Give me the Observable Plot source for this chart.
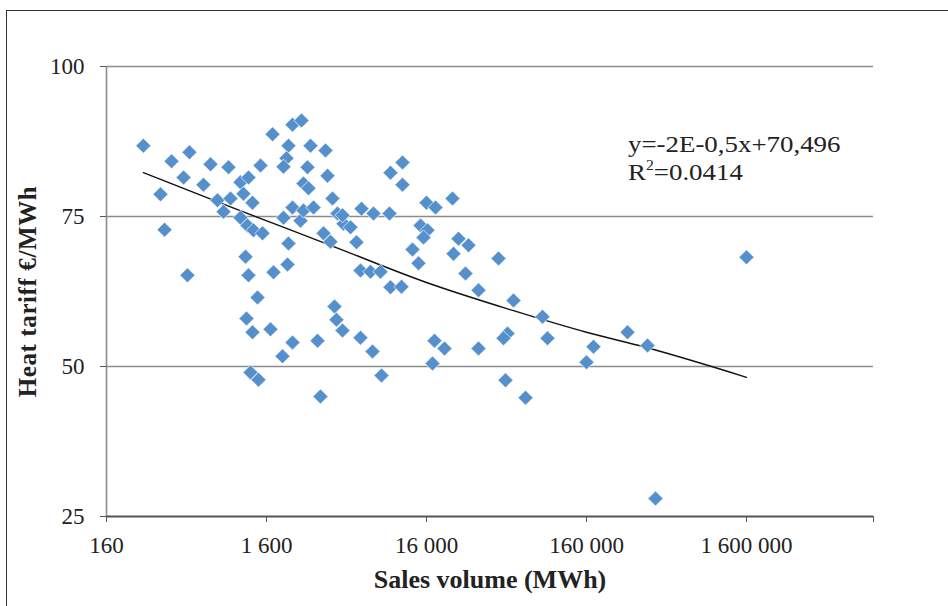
<!DOCTYPE html>
<html><head><meta charset="utf-8">
<script src="https://cdn.jsdelivr.net/npm/d3@7"></script>
<script src="https://cdn.jsdelivr.net/npm/@observablehq/plot@0.6"></script>
<style>
html,body{margin:0;padding:0;background:#fff;}
#wrap{position:relative;width:948px;height:606px;overflow:hidden;font-family:"Liberation Serif","Times New Roman",serif;}
#frame{position:absolute;left:6px;top:10px;right:-10px;bottom:-10px;border-left:1.5px solid #333;border-top:1.5px solid #333;pointer-events:none;}
#eq{position:absolute;left:628px;top:130px;font-size:24px;line-height:28px;color:#222;white-space:nowrap;transform:scaleX(1.12);transform-origin:left top;}
#eq sup{font-size:14px;vertical-align:10px;line-height:0;}
#chart{position:absolute;left:0;top:0;}
svg text{font-family:"Liberation Serif","Times New Roman",serif;}
g[aria-label="x-axis label"] text{font-weight:bold;font-size:26px;}
g[aria-label="y-axis label"] text{font-weight:bold;font-size:25px;letter-spacing:0.6px;}
</style>
</head><body>
<div id="wrap"><div id="chart"></div><div id="frame"></div>
<div id="eq">y=-2E-0,5x+70,496<br>R<sup>2</sup>=0.0414</div></div>
<script>
// Data
const salesVolume = [272,408,528,715,926,485,646,348,369,513,790,862,953,1100,1100,1149,1235,1217,1308,1327,1468,1511,1183,1235,1406,1200,1308,1271,1426,1745,2326,2648,2196,2134,2044,1770,2165,2196,1695,2326,2014,2044,2326,2610,2725,3147,2725,2929,2887,3014,3741,3850,4136,4445,4847,3635,4018,3479,3334,4257,4381,4777,4777,5360,5843,6279,7463,9395,6189,7146,8253,9530,11167,6189,7356,8374,9530,11328,11328,13080,14260,14680,16233,15325,16000,18215,23256,17955,20730,17447,25360,29290,23600,28050,33820,45100,33820,55960,84960,91270,51330,48460,49880,66520,160000,176950,288700,384900,431900,1600000];
const heatTariff = [86.8,84.2,85.7,83.7,83.2,81.5,80.3,78.7,72.8,65.2,77.7,75.8,78.0,80.7,74.8,78.8,81.5,73.5,77.3,72.7,83.5,72.2,68.3,65.2,61.5,58.0,55.7,49.0,47.8,88.7,90.3,91.0,86.8,84.7,83.3,65.7,67.0,70.5,56.2,54.0,51.7,74.8,76.5,74.3,76.0,76.5,80.5,79.7,83.2,86.8,86.0,81.8,78.0,75.5,73.8,72.2,70.8,45.0,54.3,60.0,57.8,56.0,75.2,73.2,70.7,76.3,75.5,75.5,66.0,65.8,65.8,63.2,63.3,54.8,52.5,48.5,82.3,84.0,80.3,69.5,67.2,73.5,72.7,71.5,77.3,76.5,78.0,54.3,53.0,50.5,71.3,70.2,68.8,65.5,62.7,68.0,53.0,61.0,58.3,54.7,55.5,54.7,47.7,44.8,50.7,53.3,55.7,53.5,28.0,68.2];
// Trend line points
const trendX = [272, 953, 4018, 16000, 55960, 160000, 374000, 1600000];
const trendY = [82.3, 76.6, 70.2, 64.0, 59.3, 55.7, 53.2, 48.2];
// Axes
const xTicks = [160, 1600, 16000, 160000, 1600000];
const xTickLabels = ["160", "1 600", "16 000", "160 000", "1 600 000"];
const xMax = 9950000;
const yTicks = [25, 50, 75, 100];
const xLabel = "Sales volume (MWh)";
const yLabel = "Heat tariff €/MWh";

const points = salesVolume.map((x, i) => ({x, y: heatTariff[i]}));
const trend = trendX.map((x, i) => ({x, y: trendY[i]}));

const chart = Plot.plot({
  width: 948, height: 606,
  marginLeft: 106, marginRight: 75, marginTop: 66, marginBottom: 90,
  style: {fontFamily: "Liberation Serif", fontSize: "23px", background: "transparent", color: "#222", overflow: "visible"},
  x: {type: "log", domain: [xTicks[0], xMax]},
  y: {domain: [yTicks[0], yTicks[yTicks.length - 1]]},
  marks: [
    Plot.gridY(yTicks.slice(1), {stroke: "#8c8c8c", strokeOpacity: 1, strokeWidth: 1.4}),
    Plot.ruleX([xTicks[0]], {stroke: "#8c8c8c", strokeWidth: 1.6}),
    Plot.axisY({ticks: yTicks, tickSize: 6, tickPadding: 16, stroke: "#555", fontSize: 23,
      label: yLabel, labelAnchor: "center", labelOffset: 88, labelArrow: false}),
    Plot.axisX({ticks: [...xTicks, xMax], tickFormat: d => { const k = xTicks.indexOf(d); return k >= 0 ? xTickLabels[k] : ""; },
      tickSize: 6, tickPadding: 14, stroke: "#555", fontSize: 23,
      label: xLabel, labelAnchor: "center", labelOffset: 71, labelArrow: false}),
    Plot.ruleY([yTicks[0]], {stroke: "#555", strokeWidth: 2}),
    Plot.line(trend, {x: "x", y: "y", stroke: "#111", strokeWidth: 1.4, curve: "monotone-x"}),
    Plot.dot(points, {x: "x", y: "y", symbol: "diamond2", r: 6.8, fill: "#5590cd", stroke: "white", strokeWidth: 0.7})
  ]
});
document.getElementById("chart").appendChild(chart);
</script>
</body></html>
